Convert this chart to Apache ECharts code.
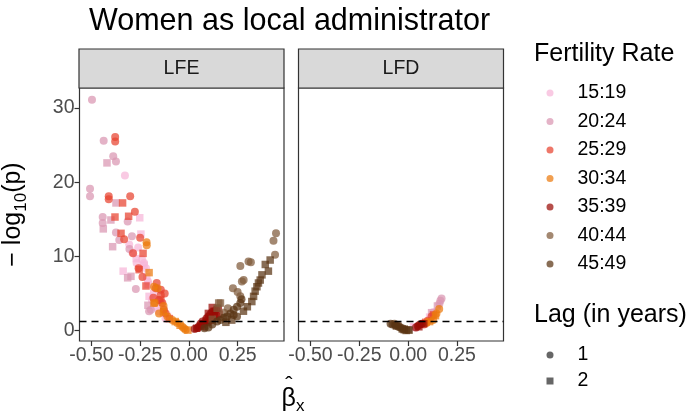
<!DOCTYPE html>
<html>
<head>
<meta charset="utf-8">
<script src="https://cdn.jsdelivr.net/npm/echarts@6/dist/echarts.min.js"></script>
<style>html,body{margin:0;padding:0;background:#fff}#c{width:688px;height:417px}</style>
</head>
<body>
<div id="c"></div>
<script>
// ---- categories ----
const panels = ['LFE', 'LFD'];
const fertility = ['15:19', '20:24', '25:29', '30:34', '35:39', '40:44', '45:49'];
const lags = ['1', '2'];
const xTicks = [-0.5, -0.25, 0, 0.25];
const yTicks = [0, 10, 20, 30];
const threshold = 1.30103; // -log10(0.05)

// ---- values [beta, -log10(p)] : panel LFE ----
const LFE_1519_lag1 = [[-0.328,20.9],[-0.306,11.6],[-0.268,9.1],[-0.23,9.1],[-0.29,10.5],[-0.26,11.2],[-0.24,9.6],[-0.22,8.4],[-0.21,6.6],[-0.19,4.1],[-0.17,3.1],[-0.12,1.6],[-0.155,2.6]];
const LFE_1519_lag2 = [[-0.252,15.2],[-0.246,13.0],[-0.337,8.0],[-0.216,7.3],[-0.209,6.2],[-0.204,4.6],[-0.144,3.8],[-0.11,1.9],[-0.27,9.7],[-0.23,8.8],[-0.18,5.0],[-0.13,2.3]];
const LFE_2024_lag1 = [[-0.497,31.1],[-0.437,25.6],[-0.388,23.5],[-0.374,22.8],[-0.507,19.1],[-0.507,18.1],[-0.442,15.3],[-0.442,14.5],[-0.314,14.7],[-0.374,13.2],[-0.357,12.2],[-0.292,12.7],[-0.272,5.6],[-0.204,2.6],[-0.195,2.8],[-0.305,11.0]];
const LFE_2024_lag2 = [[-0.42,22.6],[-0.374,17.2],[-0.439,13.7],[-0.391,11.3],[-0.297,7.3],[-0.314,7.1],[-0.21,3.4],[-0.4,14.9]];
const LFE_2529_lag1 = [[-0.378,26.1],[-0.378,25.5],[-0.411,18.1],[-0.411,17.7],[-0.301,18.1],[-0.277,16.0],[-0.332,12.3],[-0.25,12.5],[-0.286,10.4],[-0.258,8.4],[-0.165,6.4],[-0.144,5.5],[-0.124,5.0],[-0.182,4.4],[-0.17,5.7],[-0.144,4.8],[-0.153,4.1],[-0.136,3.7],[-0.128,2.8],[-0.119,2.3],[-0.238,7.2]];
const LFE_2529_lag2 = [[-0.379,15.3],[-0.34,17.2],[-0.309,15.4],[-0.348,13.1],[-0.235,10.4],[-0.255,8.2],[-0.144,4.1],[-0.22,6.0],[-0.1,1.6]];
const LFE_3034_lag1 = [[-0.217,11.9],[-0.216,11.5],[-0.161,5.7],[-0.175,3.7],[-0.179,5.9],[-0.153,2.3],[-0.11,1.9],[-0.085,1.4],[-0.059,1.0],[-0.034,0.5],[-0.017,0.1],[-0.025,0.3],[-0.13,3.3]];
const LFE_3034_lag2 = [[-0.204,7.8],[-0.179,3.7],[-0.13,2.5],[-0.07,1.2],[-0.045,0.7],[-0.005,0.05]];
const LFE_3539_lag1 = [[0.03,0.2],[0.05,0.5],[0.06,0.9],[0.07,1.2],[0.08,1.0],[0.09,1.6],[0.10,1.9],[0.11,2.2],[0.12,2.5],[0.13,2.0],[0.14,2.8],[0.10,1.1],[0.08,0.5],[0.12,1.5],[0.15,3.0],[0.045,0.35]];
const LFE_3539_lag2 = [[0.04,0.3],[0.06,0.6],[0.09,1.3],[0.11,1.4],[0.13,2.6],[0.10,2.3],[0.14,1.9],[0.07,0.8],[0.12,3.1],[0.155,2.2]];
const LFE_4044_lag1 = [[0.447,13.1],[0.434,12.1],[0.442,10.2],[0.264,8.7],[0.306,9.3],[0.318,9.2],[0.281,6.8],[0.272,6.6],[0.226,5.7],[0.264,4.6],[0.25,5.2],[0.2,3.0],[0.18,2.4]];
const LFE_4044_lag2 = [[0.162,3.7],[0.153,3.7],[0.12,1.5],[0.145,3.0]];
const LFE_4549_lag1 = [[0.264,3.7],[0.247,3.2],[0.23,2.8],[0.213,2.3],[0.23,2.1],[0.247,1.9],[0.196,1.9],[0.179,1.7],[0.162,1.4],[0.145,1.2],[0.10,0.4],[0.08,0.3],[0.12,0.8],[0.27,4.2]];
const LFE_4549_lag2 = [[0.417,9.5],[0.392,8.9],[0.408,8.0],[0.375,7.5],[0.366,6.8],[0.357,6.4],[0.349,5.9],[0.34,5.3],[0.332,4.6],[0.323,3.9],[0.30,3.2],[0.28,2.6],[0.22,1.4],[0.19,1.1]];

// ---- values : panel LFD ----
const LFD_1519_lag1 = [[0.13,2.5]];
const LFD_1519_lag2 = [[0.027,0.5],[0.11,1.8],[0.035,0.4]];
const LFD_2024_lag1 = [[0.171,4.3],[0.165,4.0],[0.16,3.6]];
const LFD_2024_lag2 = [[0.15,3.3],[0.12,2.4]];
const LFD_2529_lag1 = [[0.08,0.8],[0.10,1.3],[0.12,1.9]];
const LFD_2529_lag2 = [[0.13,2.1],[0.09,1.1]];
const LFD_3034_lag1 = [[0.094,1.0],[0.128,1.4],[0.145,2.3],[0.159,2.9]];
const LFD_3034_lag2 = [[0.14,2.0],[0.11,1.2]];
const LFD_3539_lag1 = [[0.04,0.4],[0.05,0.6],[0.06,0.8],[0.07,0.9]];
const LFD_3539_lag2 = [[0.08,0.9],[0.055,0.5]];
const LFD_4044_lag1 = [[-0.07,0.9],[-0.05,0.7],[-0.03,0.3]];
const LFD_4044_lag2 = [[0.0,0.1],[-0.02,0.2]];
const LFD_4549_lag1 = [[-0.09,0.9],[-0.08,0.8],[-0.065,0.7],[-0.05,0.5],[-0.04,0.4]];
const LFD_4549_lag2 = [[-0.03,0.2],[-0.02,0.1],[-0.01,0.0],[-0.06,0.6],[0.005,0.05]];

const dataMap = {
  LFE: {'15:19':[LFE_1519_lag1,LFE_1519_lag2],'20:24':[LFE_2024_lag1,LFE_2024_lag2],'25:29':[LFE_2529_lag1,LFE_2529_lag2],'30:34':[LFE_3034_lag1,LFE_3034_lag2],'35:39':[LFE_3539_lag1,LFE_3539_lag2],'40:44':[LFE_4044_lag1,LFE_4044_lag2],'45:49':[LFE_4549_lag1,LFE_4549_lag2]},
  LFD: {'15:19':[LFD_1519_lag1,LFD_1519_lag2],'20:24':[LFD_2024_lag1,LFD_2024_lag2],'25:29':[LFD_2529_lag1,LFD_2529_lag2],'30:34':[LFD_3034_lag1,LFD_3034_lag2],'35:39':[LFD_3539_lag1,LFD_3539_lag2],'40:44':[LFD_4044_lag1,LFD_4044_lag2],'45:49':[LFD_4549_lag1,LFD_4549_lag2]}
};

// ---- styles ----
const fertColors = ['#F7B6D8','#D995B2','#E8432F','#EB7A0C','#9A0B05','#7F5A3A','#5A3414'];
const lagSymbols = ['circle','rect'];
const FONT = 'Liberation Sans, Arial, sans-serif';
const ptOpacity = 0.72;

const grids = [
  {left: 79, top: 88, width: 205, height: 253},
  {left: 298.5, top: 88, width: 205, height: 253}
];

const series = [];
panels.forEach((p, pi) => {
  fertility.forEach((f, fi) => {
    lags.forEach((l, li) => {
      const s = {
        type: 'scatter', name: f, xAxisIndex: pi, yAxisIndex: pi,
        data: dataMap[p][f][li],
        symbol: lagSymbols[li], symbolSize: li === 0 ? 8 : 7.5,
        itemStyle: {color: fertColors[fi], opacity: ptOpacity},
        silent: true, animation: false
      };
      if (fi === 0 && li === 0) {
        s.markLine = {
          silent: true, symbol: 'none', label: {show: false}, animation: false,
          lineStyle: {color: '#000', type: [7, 5], width: 1.3},
          data: [{yAxis: threshold}]
        };
      }
      series.push(s);
    });
  });
});
lags.forEach((l, li) => {
  series.push({type: 'scatter', name: l, xAxisIndex: 0, yAxisIndex: 0, data: [],
    symbol: lagSymbols[li], itemStyle: {color: '#333', opacity: 0.75}});
});

const xAxisCommon = (gi) => ({
  type: 'value', gridIndex: gi, min: -0.561, max: 0.488,
  axisLine: {show: false, onZero: false}, splitLine: {show: false},
  axisTick: {show: true, length: 5, customValues: xTicks, lineStyle: {color: '#333', width: 1.2}},
  axisLabel: {customValues: xTicks, formatter: v => v.toFixed(2), color: '#4D4D4D', fontSize: 19.5, fontFamily: FONT, margin: 5}
});
const yAxisCommon = (gi) => ({
  type: 'value', gridIndex: gi, min: -1.42, max: 32.7,
  axisLine: {show: false, onZero: false}, splitLine: {show: false},
  axisTick: {show: gi === 0, length: 5, customValues: yTicks, lineStyle: {color: '#333', width: 1.2}},
  axisLabel: {show: gi === 0, customValues: yTicks, color: '#4D4D4D', fontSize: 19.5, fontFamily: FONT, margin: 5}
});

const yAxes = [yAxisCommon(0), yAxisCommon(1)];
yAxes[0].name = '{a|− log}{s|10}{a|(p)}';
yAxes[0].nameLocation = 'middle';
yAxes[0].nameGap = 50;
yAxes[0].nameRotate = 90;
yAxes[0].nameTextStyle = {
  fontFamily: FONT, color: '#000',
  rich: {
    a: {fontSize: 25, fontFamily: FONT, color: '#000', lineHeight: 32, verticalAlign: 'middle'},
    s: {fontSize: 17, fontFamily: FONT, color: '#000', lineHeight: 32, verticalAlign: 'bottom'}
  }
};

const graphic = [];
panels.forEach((p, pi) => {
  graphic.push({
    type: 'rect', silent: true,
    shape: {x: grids[pi].left, y: 49, width: grids[pi].width, height: 39},
    style: {fill: '#D9D9D9', stroke: '#333', lineWidth: 1.2}
  });
  graphic.push({
    type: 'text', silent: true,
    x: grids[pi].left + grids[pi].width / 2, y: 68.5,
    style: {text: p, fill: '#1A1A1A', font: '19.5px ' + FONT, align: 'center', verticalAlign: 'middle'}
  });
});
// x-axis title: beta-hat with subscript x
graphic.push({
  type: 'text', silent: true, x: 293, y: 399,
  style: {
    text: '{b|β}{s|x}', align: 'center', verticalAlign: 'middle',
    rich: {
      b: {fontSize: 25, fontFamily: FONT, fill: '#000', lineHeight: 32, verticalAlign: 'middle'},
      s: {fontSize: 17, fontFamily: FONT, fill: '#000', lineHeight: 32, verticalAlign: 'bottom'}
    }
  }
});
graphic.push({
  type: 'text', silent: true, x: 289, y: 386,
  style: {text: 'ˆ', fill: '#000', font: '22px ' + FONT, align: 'center', verticalAlign: 'middle'}
});

const option = {
  backgroundColor: '#fff',
  animation: false,
  title: [
    {text: 'Women as local administrator', left: 84, top: 1, textStyle: {fontSize: 30.5, fontWeight: 'normal', color: '#000', fontFamily: FONT}},
    {text: 'Fertility Rate', left: 529, top: 37, textStyle: {fontSize: 25, fontWeight: 'normal', color: '#000', fontFamily: FONT}},
    {text: 'Lag (in years)', left: 529, top: 298, textStyle: {fontSize: 25, fontWeight: 'normal', color: '#000', fontFamily: FONT}}
  ],
  legend: [
    {
      orient: 'vertical', left: 541.5, top: 78, itemWidth: 7, itemHeight: 7, itemGap: 8.5,
      data: fertility.map(f => ({name: f, icon: 'circle'})),
      textStyle: {fontSize: 19.5, color: '#000', fontFamily: FONT, padding: [0, 0, 0, 19]},
      itemStyle: {opacity: ptOpacity}, selectedMode: false
    },
    {
      orient: 'vertical', left: 541.5, top: 340, itemWidth: 7, itemHeight: 7, itemGap: 6,
      data: [{name: '1', icon: 'circle'}, {name: '2', icon: 'rect'}],
      textStyle: {fontSize: 19.5, color: '#000', fontFamily: FONT, padding: [0, 0, 0, 19]},
      selectedMode: false
    }
  ],
  grid: grids.map(g => Object.assign({show: true, borderColor: '#333', borderWidth: 1.2, backgroundColor: '#fff'}, g)),
  xAxis: [xAxisCommon(0), xAxisCommon(1)],
  yAxis: yAxes,
  graphic: graphic,
  series: series
};

const chart = echarts.init(document.getElementById('c'), null, {renderer: 'canvas'});
chart.setOption(option);
</script>
</body>
</html>
